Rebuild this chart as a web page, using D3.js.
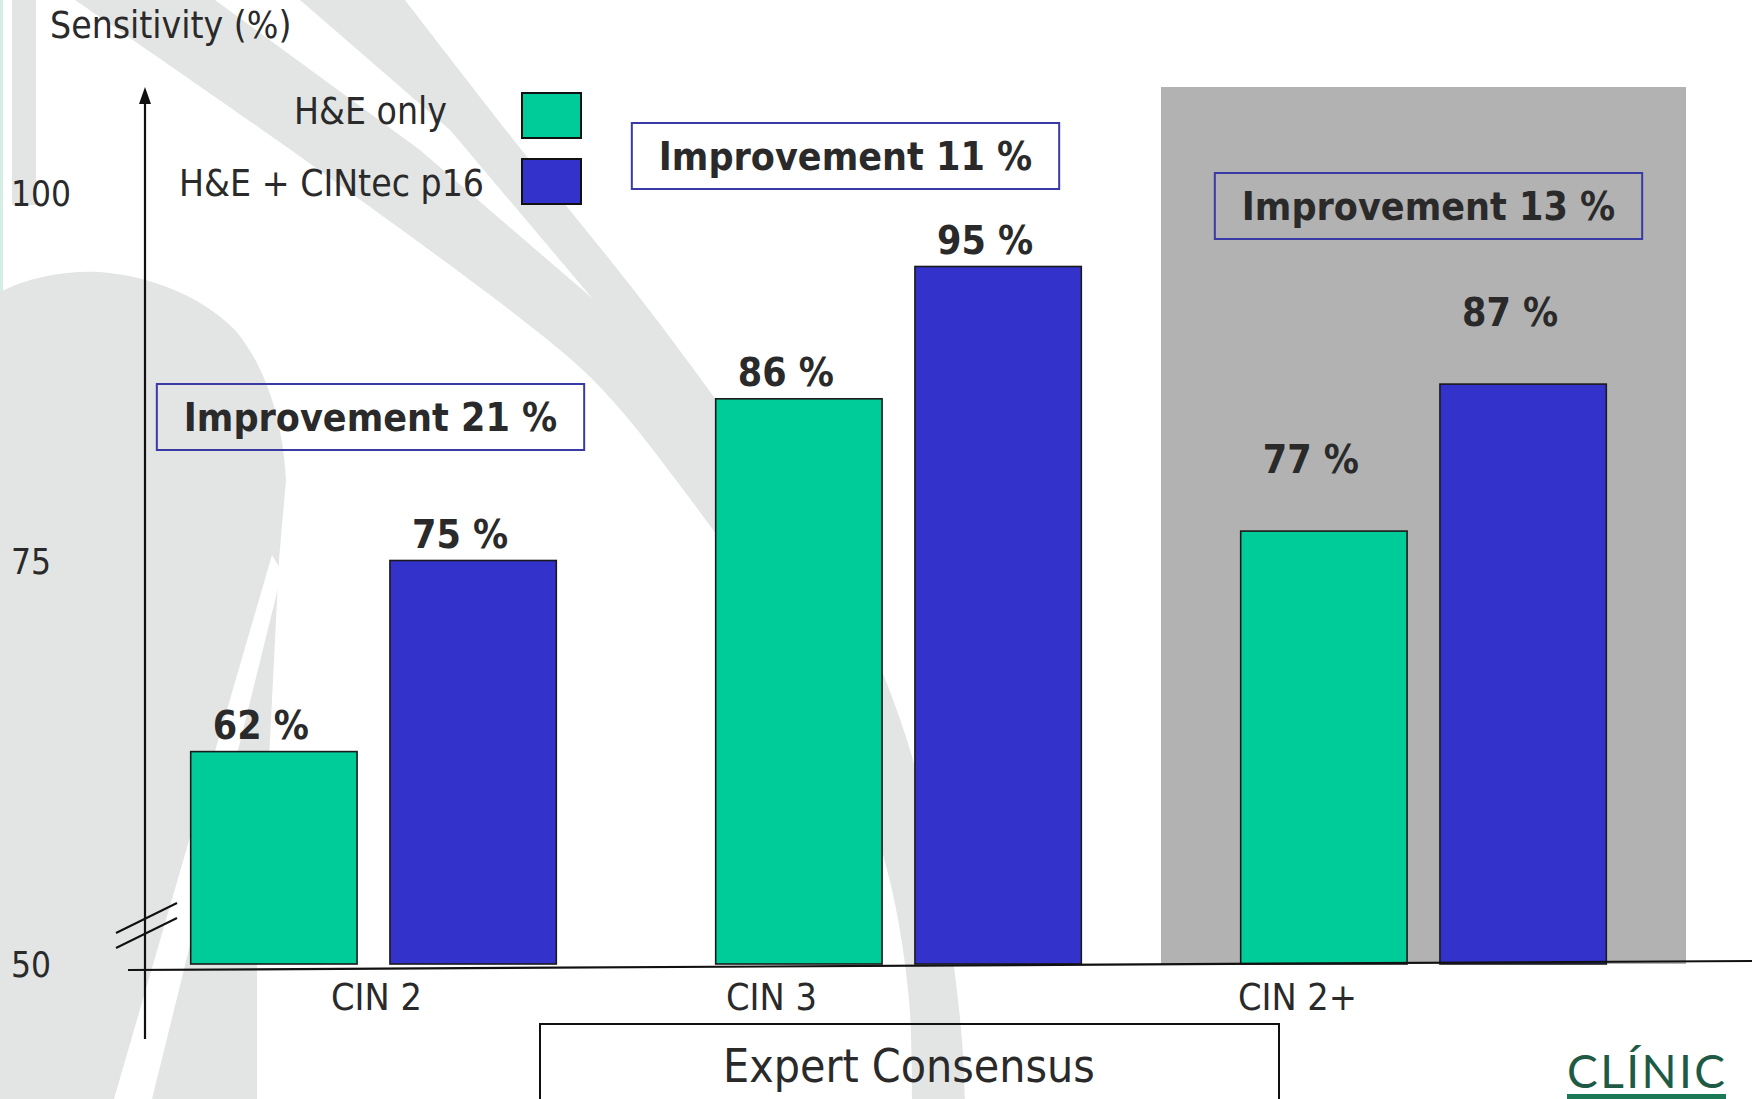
<!DOCTYPE html>
<html>
<head>
<meta charset="utf-8">
<script src="https://cdn.jsdelivr.net/npm/d3@7"></script>
<style>
  html, body { margin: 0; padding: 0; background: #fff; overflow: hidden; }
  svg { display: block; font-family: "DejaVu Sans Condensed", "DejaVu Sans", Verdana, sans-serif; font-stretch: condensed; }
</style>
</head>
<body>
<svg id="chart"></svg>
<script>
// data
const categories = ["CIN 2", "CIN 3", "CIN 2+"];
const series = ["H&E only", "H&E + CINtec p16"];
const heOnly = [62, 86, 77];
const heP16 = [75, 95, 87];
const improvement = [21, 11, 13];
const yTicks = [50, 75, 100];
const highlighted = "CIN 2+";

const width = 1752, height = 1099;
const textColor = "#2a2a2a";
const watermark = "#e3e5e4";

// layout of the free-standing annotations (not data)
const labelDx = { "CIN 2": 3, "CIN 3": -127, "CIN 2+": -126 };
const boxLayout = {
  "CIN 2":  { dx: -3,  top: 384 },
  "CIN 3":  { dx: -53, top: 123 },
  "CIN 2+": { dx: 5,   top: 173 }
};

const svg = d3.select("#chart")
  .attr("width", width)
  .attr("height", height);

// scales: the value axis is broken between 50 and 60
const x0 = d3.scaleBand().domain(categories).range([111, 1686]).padding(0);
const x1 = d3.scaleBand().domain(series).range([0, x0.bandwidth()])
  .paddingInner(0.165).paddingOuter(0.4);
const y = d3.scaleLinear().domain([50, 60, 100]).range([964, 781, 193]);
const color = d3.scaleOrdinal().domain(series).range(["#00cc99", "#3333cc"]);

const rows = categories.flatMap((c, i) => [
  { group: c, key: series[0], value: heOnly[i] },
  { group: c, key: series[1], value: heP16[i] }
]);

// --- background watermark (hospital logo shapes) ---
const bg = svg.append("g").attr("fill", watermark);
bg.append("rect").attr("x", 0).attr("y", 0).attr("width", 3).attr("height", height).attr("fill", "#d3eee3");
bg.append("rect").attr("x", 12).attr("y", 0).attr("width", 24).attr("height", 205);
// big round shape on the left
bg.append("path")
  .attr("d", "M0,292 C30,276 70,270 100,272 C150,276 200,295 235,330 C265,365 283,420 286,480 L279,560 L268,780 L257,960 L257,1099 L0,1099 Z");
bg.append("path").attr("fill", "#fff")
  .attr("d", "M272,555 L282,572 L152,1099 L114,1099 Z");
// two diagonal strokes that join and bend down
const smooth = d3.line().curve(d3.curveCatmullRom);
const rightEdge = [[405, 0], [520, 148], [640, 298], [722, 408], [800, 518], [860, 622], [902, 725], [932, 835], [951, 945], [962, 1040], [965, 1100]];
const leftEdge = [[912, 1100], [909, 1000], [892, 890], [862, 790], [818, 690], [755, 590], [685, 492], [612, 400], [560, 350], [330, 178], [75, 0]];
const notch = [[215, 0], [420, 150], [592, 298], [450, 130], [300, 0]];
bg.append("path")
  .attr("d", smooth(rightEdge) + "L" + smooth(leftEdge).slice(1) + "L" + notch.map(p => p.join(",")).join("L") + "Z");

// --- highlighted group panel ---
svg.append("rect")
  .attr("x", x0(highlighted))
  .attr("y", 87)
  .attr("width", x0.bandwidth())
  .attr("height", y(50) - 87)
  .attr("fill", "#b2b2b2");

// --- bars ---
svg.append("g")
  .selectAll("rect")
  .data(rows)
  .join("rect")
  .attr("x", d => x0(d.group) + x1(d.key))
  .attr("y", d => y(d.value))
  .attr("width", x1.bandwidth())
  .attr("height", d => y(50) - y(d.value))
  .attr("fill", d => color(d.key))
  .attr("stroke", "#1a1a1a")
  .attr("stroke-width", 1.6);

// value labels
svg.append("g")
  .selectAll("text")
  .data(rows)
  .join("text")
  .attr("x", d => x0(d.group) + x1(d.key) + x1.bandwidth() / 2 - 13)
  .attr("y", d => y(d.value) - (d.group === highlighted ? 58 : 13))
  .attr("text-anchor", "middle")
  .attr("font-size", 39)
  .attr("font-weight", "bold")
  .attr("fill", textColor)
  .text(d => d.value + " %");

// --- axes ---
// baseline (slightly tilted as on the slide)
svg.append("line")
  .attr("x1", 128).attr("y1", y(50) + 6)
  .attr("x2", width).attr("y2", y(50) - 3)
  .attr("stroke", "#111").attr("stroke-width", 2.2);

// vertical axis with arrow
svg.append("line")
  .attr("x1", 145).attr("y1", 1039)
  .attr("x2", 145).attr("y2", 98)
  .attr("stroke", "#111").attr("stroke-width", 2.2);
svg.append("path")
  .attr("d", "M145,87 L139,104 L151,104 Z")
  .attr("fill", "#111");

// axis break marks
[0, 15].forEach(off => {
  svg.append("line")
    .attr("x1", 116).attr("y1", 933 + off)
    .attr("x2", 177).attr("y2", 903 + off)
    .attr("stroke", "#111").attr("stroke-width", 2);
});

const yAxis = svg.append("g")
  .call(d3.axisLeft(y).tickValues(yTicks).tickSize(0).tickFormat(d3.format("d")));
yAxis.select(".domain").remove();
yAxis.attr("font-size", 35).attr("font-family", null);
yAxis.selectAll("text")
  .attr("x", 11)
  .attr("dy", "0.36em")
  .attr("text-anchor", "start")
  .attr("fill", textColor);

const xAxis = svg.append("g")
  .attr("transform", "translate(0,1010)")
  .call(d3.axisBottom(x0).tickSize(0));
xAxis.select(".domain").remove();
xAxis.attr("font-size", 37.5).attr("font-family", null);
xAxis.selectAll("text")
  .attr("y", 0)
  .attr("dy", 0)
  .attr("dx", d => labelDx[d])
  .attr("fill", textColor);

// axis title
svg.append("text")
  .attr("x", 50).attr("y", 38)
  .attr("font-size", 37)
  .attr("fill", textColor)
  .text("Sensitivity (%)");

// --- improvement boxes ---
categories.forEach((c, i) => {
  const lay = boxLayout[c];
  const cx = x0(c) + x0.bandwidth() / 2 + lay.dx;
  const g = svg.append("g");
  const t = g.append("text")
    .attr("x", cx)
    .attr("y", lay.top + 33)
    .attr("dy", "0.36em")
    .attr("text-anchor", "middle")
    .attr("font-size", 39)
    .attr("font-weight", "bold")
    .attr("fill", textColor)
    .text(`Improvement ${improvement[i]} %`);
  const w = t.node().getComputedTextLength() + 54;
  g.insert("rect", "text")
    .attr("x", cx - w / 2)
    .attr("y", lay.top)
    .attr("width", w)
    .attr("height", 66)
    .attr("fill", "none")
    .attr("stroke", "#3a3aa6")
    .attr("stroke-width", 2);
});

// --- legend ---
const legendRight = [447, 484];
const legendBase = [124, 196];
const swatchTop = [93, 159];
series.forEach((s, i) => {
  svg.append("text")
    .attr("x", legendRight[i])
    .attr("y", legendBase[i])
    .attr("text-anchor", "end")
    .attr("font-size", 37)
    .attr("fill", textColor)
    .text(s);
  svg.append("rect")
    .attr("x", 522).attr("y", swatchTop[i])
    .attr("width", 59).attr("height", 45)
    .attr("fill", color(s))
    .attr("stroke", "#111")
    .attr("stroke-width", 2);
});

// --- bottom caption ---
svg.append("rect")
  .attr("x", 540).attr("y", 1024)
  .attr("width", 739).attr("height", 100)
  .attr("fill", "none")
  .attr("stroke", "#111")
  .attr("stroke-width", 2);
svg.append("text")
  .attr("x", 909).attr("y", 1082)
  .attr("text-anchor", "middle")
  .attr("font-size", 46)
  .attr("fill", textColor)
  .text("Expert Consensus");

// logo
svg.append("text")
  .attr("x", 1567).attr("y", 1088)
  .attr("font-family", "Lato, 'Open Sans', sans-serif")
  .style("font-stretch", "normal")
  .attr("font-size", 46)
  .attr("fill", "#1f5a45")
  .attr("textLength", 158)
  .attr("lengthAdjust", "spacing")
  .text("CLÍNIC");
svg.append("rect")
  .attr("x", 1567).attr("y", 1094)
  .attr("width", 159).attr("height", 5)
  .attr("fill", "#1b7a55");
</script>
</body>
</html>
